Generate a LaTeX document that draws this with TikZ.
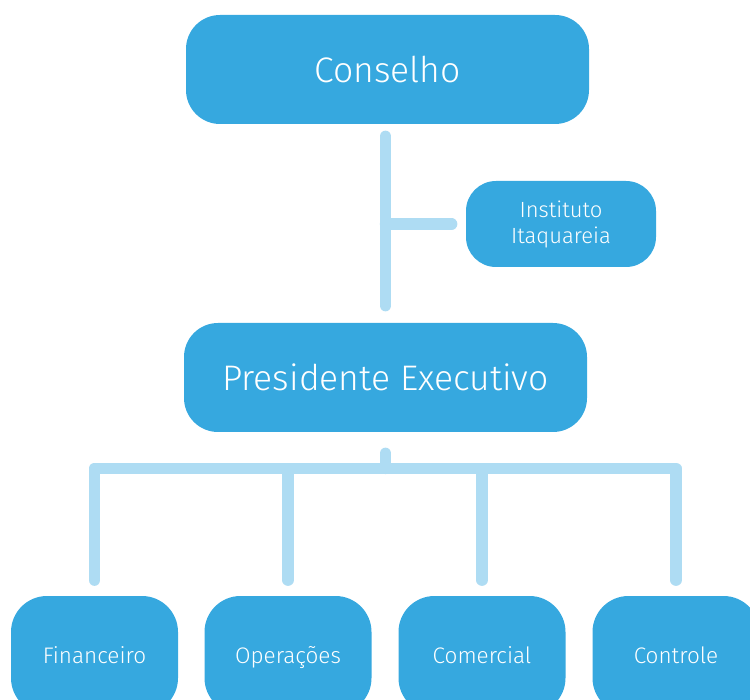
\documentclass[tikz,border=0pt]{standalone}
\usepackage{fontspec}
\setmainfont{Fira Sans Light}
\definecolor{boxblue}{HTML}{36A8DF}
\definecolor{linkblue}{HTML}{AEDCF3}
\tikzset{every picture/.style={line width=0.75pt}}
\tikzset{
  orgbox/.style={fill=boxblue, text=white, align=center, inner sep=0pt, rounded corners=34pt},
  bigbox/.style={orgbox, minimum width=403pt, minimum height=109pt, font=\fontsize{35.5}{40}\selectfont},
  deptbox/.style={orgbox, minimum width=167pt, minimum height=118pt, rounded corners=36pt, text height=18.6pt, text depth=2.2pt, font=\fontsize{22.5}{26}\selectfont},
  link/.style={draw=linkblue, line width=11.5pt, line cap=round, line join=round}
}

\begin{document}
\begin{tikzpicture}[x=1pt,y=1pt,yscale=-1,xscale=1]
\useasboundingbox (0,0) rectangle (750,700);
\clip (0,0) rectangle (750,700);
%Shape: Rounded Rect [id:cons]
\node[bigbox] (cons) at (387.5,69.5) {Conselho};
%Shape: Rounded Rect [id:inst]
\node[orgbox, minimum width=190pt, minimum height=86pt, rounded corners=30pt, font=\fontsize{22}{26}\selectfont] (inst) at (561,224) {Instituto\\Itaquareia};
%Shape: Rounded Rect [id:pres]
\node[bigbox] (pres) at (385.5,377.5) {Presidente Executivo};
%Shape: Rounded Rect [id:dept]
\node[deptbox] (fin) at (94.5,655) {Financeiro};
\node[deptbox] (ope) at (288,655) {Operações};
\node[deptbox] (com) at (482,655) {Comercial};
\node[deptbox] (ctl) at (676,655) {Controle};

\coordinate (bus) at ([yshift=36pt]pres.south);

%Straight Lines
\draw[link, shorten <=12pt, shorten >=17pt] (cons.south -| pres.north) -- (pres.north);
\draw[link, shorten >=14pt] (inst.west -| pres.north) -- (inst.west);
\draw[link, shorten <=21pt] (pres.south) -- (bus);
\foreach \n in {fin,ope,com,ctl}
  \draw[link, shorten >=15.5pt] (bus) -| (\n.north);
\end{tikzpicture}
\end{document}
